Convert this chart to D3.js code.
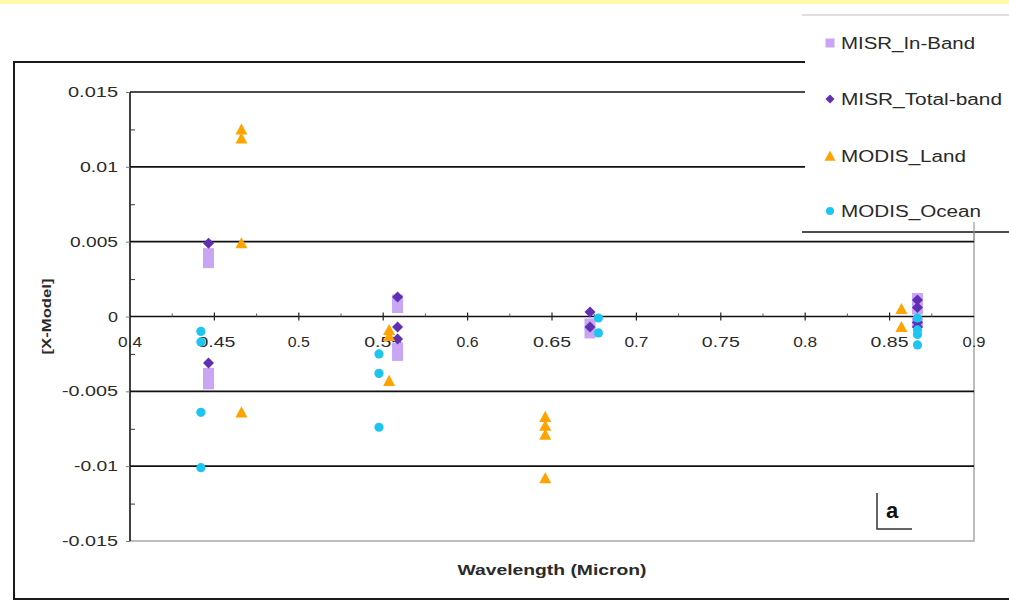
<!DOCTYPE html>
<html>
<head>
<meta charset="utf-8">
<script src="https://cdn.jsdelivr.net/npm/d3@7"></script>
<style>
  html, body { margin: 0; padding: 0; background: #fff; }
  svg { display: block; }
  text { font-family: "Liberation Sans", Arial, sans-serif; fill: #2a2a2a; }
</style>
</head>
<body>
<svg id="chart" width="1009" height="605"></svg>
<script>
// ---- data: wavelength (micron) and difference from model for each product ----
const misrInBandX   = [0.4465, 0.4465, 0.4465, 0.4465, 0.5585, 0.5585, 0.5585, 0.5585, 0.6725, 0.6725, 0.8665, 0.8665, 0.8665];
const misrInBandY   = [0.0042, 0.0036, -0.0038, -0.0045, 0.0011, 0.0006, -0.0021, -0.0026, -0.0005, -0.0011, 0.0012, 0.0005, -0.0004];

const misrTotalX    = [0.4465, 0.4465, 0.5585, 0.5585, 0.5585, 0.6725, 0.6725, 0.8665, 0.8665, 0.8665, 0.8665];
const misrTotalY    = [0.0049, -0.0031, 0.0013, -0.0007, -0.0015, 0.0003, -0.0007, 0.0011, 0.0006, -0.0004, -0.0007];

const modisLandX    = [0.466, 0.466, 0.466, 0.466, 0.5535, 0.5535, 0.5535, 0.646, 0.646, 0.646, 0.646, 0.857, 0.857];
const modisLandY    = [0.0125, 0.0119, 0.0049, -0.0064, -0.0009, -0.0013, -0.0043, -0.0067, -0.0073, -0.0079, -0.0108, 0.0005, -0.0007];

const modisOceanX   = [0.442, 0.442, 0.442, 0.442, 0.5475, 0.5475, 0.5475, 0.6775, 0.6775, 0.8665, 0.8665, 0.8665, 0.8665];
const modisOceanY   = [-0.0010, -0.0017, -0.0064, -0.0101, -0.0025, -0.0038, -0.0074, -0.0001, -0.0011, -0.0001, -0.0009, -0.0012, -0.0019];

const seriesNames   = ["MISR_In-Band", "MISR_Total-band", "MODIS_Land", "MODIS_Ocean"];
const seriesColors  = ["#c9a6f3", "#5f2fb4", "#ffa300", "#1dc5f1"];

const xTickValues   = [0.4, 0.45, 0.5, 0.55, 0.6, 0.65, 0.7, 0.75, 0.8, 0.85, 0.9];
const xTickLabels   = ["0.4", "0.45", "0.5", "0.55", "0.6", "0.65", "0.7", "0.75", "0.8", "0.85", "0.9"];
const yTickValues   = [0.015, 0.01, 0.005, 0, -0.005, -0.01, -0.015];
const yTickLabels   = ["0.015", "0.01", "0.005", "0", "-0.005", "-0.01", "-0.015"];

// ---- layout ----
const svg = d3.select("#chart");
const plot = { left: 130, right: 974, top: 92, bottom: 541 };

const x = d3.scaleLinear().domain([0.4, 0.9]).range([plot.left, plot.right]);
const y = d3.scaleLinear().domain([-0.015, 0.015]).range([plot.bottom, plot.top]);

// thin yellow strip along the top edge
svg.append("rect").attr("x", 0).attr("y", 0).attr("width", 1009).attr("height", 4).attr("fill", "#fff9a8");

// outer frame
const frame = svg.append("g").attr("stroke", "#1a1a1a").attr("stroke-width", 2).attr("fill", "none");
frame.append("path").attr("d", "M805,62 H14 V599 H1009");

// plot border (right and bottom are light grey)
svg.append("path")
  .attr("d", `M${plot.left},${plot.bottom} H${plot.right} V${plot.top}`)
  .attr("fill", "none").attr("stroke", "#a8a8a8").attr("stroke-width", 1.5);

// horizontal gridlines
svg.append("g").selectAll("line")
  .data(yTickValues.filter(v => v !== 0 && v !== -0.015))
  .join("line")
  .attr("x1", plot.left).attr("x2", plot.right)
  .attr("y1", d => y(d)).attr("y2", d => y(d))
  .attr("stroke", "#111").attr("stroke-width", 1.6);

// y axis: line, outward major ticks, inward minor ticks
const yAxis = svg.append("g").attr("transform", `translate(${plot.left},0)`)
  .call(d3.axisLeft(y).tickValues(yTickValues).tickSize(4).tickFormat((d, i) => ""));
yAxis.select(".domain").attr("stroke", "#111").attr("stroke-width", 1.6).attr("d", `M0,${plot.top}V${plot.bottom}`);
yAxis.selectAll(".tick line").attr("stroke", "#777");
svg.append("g").attr("transform", `translate(${plot.left},0)`)
  .call(d3.axisRight(y).tickValues(d3.range(-0.0125, 0.015, 0.005)).tickSize(5).tickFormat(""))
  .call(g => g.select(".domain").remove())
  .selectAll(".tick line").attr("stroke", "#333");

// y tick labels
const yLabelWidths = [50, 38, 48, 10, 56, 44, 56];
svg.append("g").selectAll("text")
  .data(yTickValues)
  .join("text")
  .attr("x", 118).attr("y", d => y(d) + 5)
  .attr("text-anchor", "end")
  .attr("font-size", 15)
  .attr("textLength", (d, i) => yLabelWidths[i])
  .attr("lengthAdjust", "spacingAndGlyphs")
  .text((d, i) => yTickLabels[i]);

// x axis along zero, ticks crossing the line
const xAxisG = svg.append("g").attr("transform", `translate(0,${y(0)})`);
xAxisG.append("line")
  .attr("x1", plot.left).attr("x2", plot.right)
  .attr("stroke", "#111").attr("stroke-width", 1.6);
xAxisG.selectAll("line.major")
  .data(xTickValues.slice(1, -1))
  .join("line").attr("class", "major")
  .attr("x1", d => x(d)).attr("x2", d => x(d))
  .attr("y1", -4).attr("y2", 4)
  .attr("stroke", "#222").attr("stroke-width", 1.2);
xAxisG.selectAll("line.minor")
  .data(d3.range(0.425, 0.9, 0.05))
  .join("line").attr("class", "minor")
  .attr("x1", d => x(d)).attr("x2", d => x(d))
  .attr("y1", -3).attr("y2", 0)
  .attr("stroke", "#555");

// x tick labels
const xLabelWidths = [24, 38, 22, 38, 22, 38, 24, 38, 24, 38, 23];
svg.append("g").selectAll("text")
  .data(xTickValues)
  .join("text")
  .attr("x", d => x(d) + (d === 0.45 ? 2 : 0))
  .attr("y", y(0) + 30)
  .attr("text-anchor", "middle")
  .attr("font-size", 15)
  .attr("textLength", (d, i) => xLabelWidths[i])
  .attr("lengthAdjust", "spacingAndGlyphs")
  .text((d, i) => xTickLabels[i]);

// axis titles
svg.append("text")
  .attr("transform", `translate(51,${y(0)}) rotate(-90)`)
  .attr("text-anchor", "middle")
  .attr("font-size", 13).attr("font-weight", "bold")
  .attr("textLength", 76).attr("lengthAdjust", "spacingAndGlyphs")
  .text("[X-Model]");
svg.append("text")
  .attr("x", 552).attr("y", 575)
  .attr("text-anchor", "middle")
  .attr("font-size", 14).attr("font-weight", "bold")
  .attr("textLength", 189).attr("lengthAdjust", "spacingAndGlyphs")
  .text("Wavelength (Micron)");

// panel tag "a"
svg.append("path").attr("d", "M877,493 V529 H912").attr("fill", "none").attr("stroke", "#333").attr("stroke-width", 1.5);
svg.append("text").attr("x", 886).attr("y", 518)
  .attr("font-size", 22).attr("font-weight", "bold").style("fill", "#111").text("a");

// ---- markers ----
const markers = {
  square: (cx, cy, s) => `M${cx - s},${cy - s}H${cx + s}V${cy + s}H${cx - s}Z`,
  diamond: (cx, cy, s) => `M${cx},${cy - s}L${cx + s},${cy}L${cx},${cy + s}L${cx - s},${cy}Z`,
  triangle: (cx, cy, s) => `M${cx},${cy - s}L${cx + s},${cy + s * 0.85}L${cx - s},${cy + s * 0.85}Z`
};

function drawSeries(xs, ys, color, kind, size) {
  const pts = xs.map((v, i) => ({ wl: v, diff: ys[i] }));
  const g = svg.append("g");
  if (kind === "circle") {
    g.selectAll("circle").data(pts).join("circle")
      .attr("cx", d => x(d.wl)).attr("cy", d => y(d.diff)).attr("r", size)
      .attr("fill", color);
  } else {
    g.selectAll("path").data(pts).join("path")
      .attr("d", d => markers[kind](x(d.wl), y(d.diff), size))
      .attr("fill", color);
  }
}

drawSeries(misrInBandX, misrInBandY, seriesColors[0], "square", 5.5);
drawSeries(misrTotalX, misrTotalY, seriesColors[1], "diamond", 5.5);
drawSeries(modisLandX, modisLandY, seriesColors[2], "triangle", 6);
drawSeries(modisOceanX, modisOceanY, seriesColors[3], "circle", 4.6);

// ---- legend ----
const legend = svg.append("g");
legend.append("rect").attr("x", 805).attr("y", 15).attr("width", 210).attr("height", 217).attr("fill", "#fff");
legend.append("line").attr("x1", 802).attr("x2", 1009).attr("y1", 15).attr("y2", 15).attr("stroke", "#d4d4d4").attr("stroke-width", 1.5);
legend.append("line").attr("x1", 802).attr("x2", 1009).attr("y1", 232).attr("y2", 232).attr("stroke", "#111").attr("stroke-width", 1.6);
legend.append("line").attr("x1", plot.right).attr("x2", plot.right).attr("y1", 222).attr("y2", 241).attr("stroke", "#999").attr("stroke-width", 1.2);

const legendY = [43, 99, 156, 211];
const legendW = [134, 161, 125, 140];
const legendKinds = ["square", "diamond", "triangle", "circle"];
seriesNames.forEach((name, i) => {
  const cy = legendY[i];
  if (legendKinds[i] === "circle") {
    legend.append("circle").attr("cx", 830).attr("cy", cy).attr("r", 4).attr("fill", seriesColors[i]);
  } else {
    const s = legendKinds[i] === "triangle" ? 5.5 : 4.5;
    legend.append("path").attr("d", markers[legendKinds[i]](830, cy, s)).attr("fill", seriesColors[i]);
  }
  legend.append("text")
    .attr("x", 841).attr("y", cy + 6)
    .attr("font-size", 16)
    .attr("textLength", legendW[i]).attr("lengthAdjust", "spacingAndGlyphs")
    .text(name);
});
</script>
</body>
</html>
